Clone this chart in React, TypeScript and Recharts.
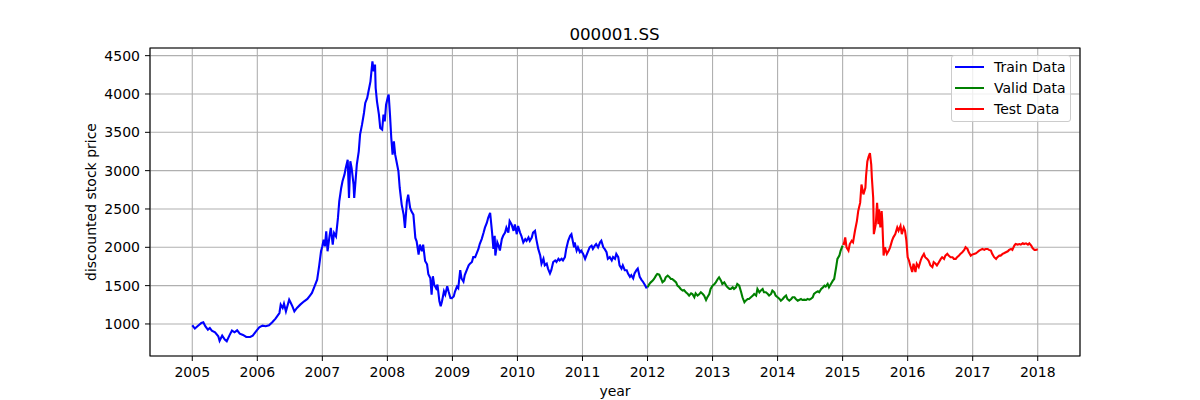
import React from 'react';
import { LineChart, Line, XAxis, YAxis, CartesianGrid, ReferenceArea, Legend } from 'recharts';

// [year, price]
const trainPoints: [number, number][] = [
  [2005.00, 983], [2005.04, 940], [2005.08, 970], [2005.14, 1013], [2005.17, 1022], [2005.20, 970],
  [2005.24, 926], [2005.27, 948], [2005.30, 913], [2005.35, 891], [2005.40, 839], [2005.42, 780],
  [2005.46, 848], [2005.50, 796], [2005.53, 775], [2005.57, 848], [2005.61, 913], [2005.65, 891],
  [2005.69, 917], [2005.73, 874], [2005.78, 857], [2005.83, 830], [2005.89, 830], [2005.93, 848],
  [2005.98, 904], [2006.03, 957], [2006.08, 978], [2006.13, 970], [2006.18, 983], [2006.23, 1022],
  [2006.28, 1070], [2006.34, 1143], [2006.36, 1252], [2006.39, 1209], [2006.41, 1265], [2006.44, 1165],
  [2006.49, 1317], [2006.51, 1283], [2006.54, 1230], [2006.57, 1165], [2006.61, 1209], [2006.66, 1252],
  [2006.72, 1296], [2006.77, 1326], [2006.81, 1370], [2006.84, 1404], [2006.88, 1491], [2006.92, 1578],
  [2006.95, 1752], [2006.98, 1948], [2007.00, 2013], [2007.02, 2100], [2007.04, 2013], [2007.06, 2209],
  [2007.08, 1948], [2007.11, 2143], [2007.13, 2252], [2007.16, 2035], [2007.18, 2187], [2007.21, 2143],
  [2007.24, 2383], [2007.26, 2600], [2007.29, 2774], [2007.31, 2861], [2007.34, 2948], [2007.36, 3035],
  [2007.39, 3143], [2007.41, 2643], [2007.43, 3122], [2007.45, 3035], [2007.48, 2817], [2007.49, 2643],
  [2007.51, 2861], [2007.53, 3078], [2007.56, 3252], [2007.58, 3470], [2007.61, 3600], [2007.64, 3752],
  [2007.66, 3883], [2007.69, 3948], [2007.71, 4035], [2007.74, 4165], [2007.76, 4339], [2007.77, 4426],
  [2007.79, 4296], [2007.81, 4383], [2007.82, 4078], [2007.84, 3904], [2007.87, 3730], [2007.89, 3557],
  [2007.92, 3535], [2007.94, 3730], [2007.96, 3643], [2007.98, 3861], [2008.01, 3970], [2008.02, 3991],
  [2008.04, 3730], [2008.06, 3426], [2008.08, 3209], [2008.10, 3383], [2008.12, 3209], [2008.14, 3122],
  [2008.17, 2991], [2008.19, 2774], [2008.22, 2557], [2008.25, 2426], [2008.27, 2252], [2008.30, 2600],
  [2008.32, 2687], [2008.35, 2513], [2008.37, 2470], [2008.40, 2426], [2008.43, 2122], [2008.45, 2078],
  [2008.48, 1904], [2008.50, 2035], [2008.53, 1948], [2008.55, 2035], [2008.58, 1822], [2008.61, 1778],
  [2008.63, 1648], [2008.66, 1600], [2008.68, 1383], [2008.70, 1622], [2008.72, 1513], [2008.75, 1465],
  [2008.77, 1513], [2008.80, 1296], [2008.82, 1230], [2008.84, 1296], [2008.87, 1426], [2008.89, 1383],
  [2008.92, 1491], [2008.94, 1426], [2008.97, 1339], [2008.99, 1337], [2009.02, 1359], [2009.04, 1423],
  [2009.07, 1487], [2009.09, 1466], [2009.12, 1701], [2009.14, 1594], [2009.17, 1551], [2009.19, 1637],
  [2009.22, 1701], [2009.25, 1765], [2009.27, 1786], [2009.30, 1808], [2009.32, 1872], [2009.35, 1872],
  [2009.37, 1914], [2009.40, 1979], [2009.42, 2043], [2009.45, 2107], [2009.48, 2192], [2009.50, 2256],
  [2009.53, 2321], [2009.55, 2385], [2009.58, 2449], [2009.59, 2363], [2009.61, 2192], [2009.63, 1979],
  [2009.65, 2150], [2009.66, 1893], [2009.69, 2064], [2009.71, 2021], [2009.73, 1957], [2009.76, 2107],
  [2009.78, 2150], [2009.81, 2192], [2009.83, 2256], [2009.86, 2192], [2009.88, 2342], [2009.91, 2299],
  [2009.94, 2214], [2009.96, 2299], [2009.99, 2171], [2010.01, 2278], [2010.04, 2192], [2010.06, 2150],
  [2010.09, 2064], [2010.12, 2107], [2010.14, 2085], [2010.17, 2128], [2010.19, 2085], [2010.22, 2128],
  [2010.24, 2192], [2010.27, 2214], [2010.29, 2107], [2010.32, 1979], [2010.35, 1893], [2010.37, 1786],
  [2010.40, 1850], [2010.42, 1765], [2010.45, 1786], [2010.47, 1722], [2010.50, 1658], [2010.52, 1701],
  [2010.55, 1808], [2010.58, 1829], [2010.60, 1808], [2010.63, 1850], [2010.65, 1829], [2010.68, 1850],
  [2010.70, 1829], [2010.73, 1872], [2010.75, 1979], [2010.78, 2085], [2010.81, 2150], [2010.83, 2171],
  [2010.85, 2085], [2010.87, 2000], [2010.88, 2064], [2010.91, 1957], [2010.93, 2000], [2010.96, 1936],
  [2010.98, 1957], [2011.01, 1914], [2011.04, 1850], [2011.06, 1893], [2011.09, 1957], [2011.11, 2000],
  [2011.14, 2021], [2011.16, 1979], [2011.19, 2021], [2011.21, 2043], [2011.24, 2000], [2011.27, 2064],
  [2011.29, 2085], [2011.32, 2000], [2011.34, 1979], [2011.37, 1936], [2011.39, 1850], [2011.42, 1872],
  [2011.45, 1829], [2011.47, 1872], [2011.50, 1850], [2011.52, 1914], [2011.55, 1872], [2011.57, 1765],
  [2011.60, 1722], [2011.62, 1765], [2011.65, 1701], [2011.68, 1701], [2011.70, 1658], [2011.73, 1615],
  [2011.75, 1637], [2011.78, 1594], [2011.80, 1658], [2011.83, 1701], [2011.85, 1722], [2011.88, 1615],
  [2011.91, 1573], [2011.93, 1551], [2011.96, 1508], [2011.98, 1474], [2012.00, 1478],
];

const validPoints: [number, number][] = [
  [2012.00, 1478], [2012.03, 1522], [2012.05, 1543], [2012.08, 1565], [2012.10, 1587], [2012.13, 1630],
  [2012.15, 1652], [2012.18, 1643], [2012.21, 1587], [2012.23, 1543], [2012.26, 1565], [2012.28, 1609],
  [2012.31, 1630], [2012.33, 1617], [2012.36, 1587], [2012.38, 1587], [2012.41, 1565], [2012.44, 1543],
  [2012.46, 1500], [2012.49, 1478], [2012.51, 1457], [2012.54, 1435], [2012.56, 1443], [2012.59, 1413],
  [2012.62, 1391], [2012.64, 1370], [2012.67, 1400], [2012.69, 1391], [2012.72, 1348], [2012.74, 1400],
  [2012.77, 1370], [2012.79, 1383], [2012.82, 1413], [2012.85, 1391], [2012.87, 1370], [2012.90, 1313],
  [2012.92, 1348], [2012.95, 1391], [2012.97, 1457], [2013.00, 1500], [2013.03, 1522], [2013.05, 1543],
  [2013.08, 1587], [2013.10, 1609], [2013.13, 1565], [2013.15, 1522], [2013.18, 1543], [2013.21, 1500],
  [2013.23, 1478], [2013.26, 1457], [2013.28, 1457], [2013.31, 1478], [2013.33, 1457], [2013.36, 1478],
  [2013.38, 1522], [2013.41, 1500], [2013.44, 1413], [2013.46, 1348], [2013.49, 1283], [2013.51, 1304],
  [2013.54, 1326], [2013.56, 1326], [2013.59, 1348], [2013.62, 1370], [2013.64, 1391], [2013.67, 1370],
  [2013.69, 1457], [2013.72, 1413], [2013.74, 1435], [2013.77, 1457], [2013.79, 1413], [2013.82, 1413],
  [2013.85, 1391], [2013.87, 1370], [2013.90, 1391], [2013.92, 1435], [2013.95, 1413], [2013.97, 1370],
  [2014.00, 1348], [2014.03, 1326], [2014.05, 1304], [2014.08, 1326], [2014.10, 1348], [2014.13, 1370],
  [2014.15, 1326], [2014.18, 1304], [2014.21, 1326], [2014.23, 1348], [2014.26, 1348], [2014.28, 1326],
  [2014.31, 1304], [2014.33, 1313], [2014.36, 1326], [2014.38, 1313], [2014.41, 1317], [2014.44, 1313],
  [2014.46, 1326], [2014.49, 1317], [2014.51, 1326], [2014.54, 1348], [2014.56, 1391], [2014.59, 1413],
  [2014.62, 1426], [2014.64, 1413], [2014.67, 1457], [2014.69, 1470], [2014.72, 1500], [2014.74, 1487],
  [2014.77, 1522], [2014.79, 1478], [2014.82, 1522], [2014.85, 1565], [2014.87, 1587], [2014.90, 1739],
  [2014.92, 1848], [2014.95, 1891], [2014.97, 1957], [2015.00, 2022],
];

const testPoints: [number, number][] = [
  [2015.00, 2050], [2015.02, 2043], [2015.04, 2130], [2015.06, 2000], [2015.09, 1957], [2015.11, 2043],
  [2015.14, 2086], [2015.16, 2065], [2015.19, 2216], [2015.22, 2345], [2015.24, 2474], [2015.27, 2582],
  [2015.29, 2819], [2015.32, 2690], [2015.35, 2776], [2015.36, 2927], [2015.38, 3121], [2015.40, 3185],
  [2015.42, 3228], [2015.44, 3078], [2015.45, 2905], [2015.47, 2647], [2015.48, 2172], [2015.51, 2302],
  [2015.53, 2582], [2015.55, 2302], [2015.56, 2496], [2015.58, 2259], [2015.60, 2474], [2015.61, 2345],
  [2015.63, 1892], [2015.65, 2000], [2015.68, 1914], [2015.71, 1957], [2015.73, 2000], [2015.76, 2086],
  [2015.78, 2130], [2015.81, 2172], [2015.84, 2259], [2015.86, 2216], [2015.89, 2280], [2015.91, 2172],
  [2015.94, 2259], [2015.96, 2216], [2015.98, 2086], [2016.00, 1871], [2016.02, 1828], [2016.04, 1763],
  [2016.07, 1677], [2016.09, 1785], [2016.12, 1677], [2016.14, 1785], [2016.17, 1741], [2016.20, 1828],
  [2016.22, 1871], [2016.25, 1914], [2016.27, 1871], [2016.30, 1849], [2016.32, 1828], [2016.35, 1763],
  [2016.38, 1741], [2016.40, 1806], [2016.43, 1785], [2016.45, 1763], [2016.48, 1806], [2016.51, 1849],
  [2016.53, 1871], [2016.56, 1849], [2016.58, 1892], [2016.61, 1914], [2016.63, 1892], [2016.66, 1871],
  [2016.69, 1871], [2016.71, 1849], [2016.74, 1849], [2016.76, 1871], [2016.79, 1892], [2016.81, 1914],
  [2016.84, 1935], [2016.87, 1966], [2016.89, 2000], [2016.92, 1978], [2016.94, 1935], [2016.97, 1892],
  [2016.99, 1905], [2017.02, 1914], [2017.05, 1922], [2017.07, 1935], [2017.10, 1957], [2017.12, 1966],
  [2017.15, 1978], [2017.18, 1966], [2017.20, 1978], [2017.23, 1978], [2017.25, 1966], [2017.28, 1957],
  [2017.30, 1914], [2017.33, 1871], [2017.36, 1849], [2017.38, 1871], [2017.41, 1892], [2017.43, 1892],
  [2017.46, 1914], [2017.48, 1922], [2017.51, 1935], [2017.54, 1948], [2017.56, 1966], [2017.59, 1978],
  [2017.61, 1966], [2017.64, 2022], [2017.66, 2043], [2017.69, 2035], [2017.72, 2043], [2017.74, 2035],
  [2017.77, 2052], [2017.79, 2043], [2017.82, 2052], [2017.85, 2035], [2017.87, 2052], [2017.90, 2022],
  [2017.92, 1991], [2017.95, 1966], [2017.97, 1966], [2018.00, 1974],
];

const xTicks = [2005, 2006, 2007, 2008, 2009, 2010, 2011, 2012, 2013, 2014, 2015, 2016, 2017, 2018];
const yTicks = [1000, 1500, 2000, 2500, 3000, 3500, 4000, 4500];
const seriesNames = ['Train Data', 'Valid Data', 'Test Data'];
const seriesColors = ['#0000ff', '#008000', '#ff0000'];

const X_DOMAIN: [number, number] = [2004.35, 2018.65];
const Y_DOMAIN: [number, number] = [582, 4600];

const toRows = (pts: [number, number][]) => pts.map(([year, price]) => ({ year, price }));

const font = '"DejaVu Sans", sans-serif';

const renderLegend = () => (
  <div
    style={{
      width: 120,
      height: 67,
      border: '1px solid #cccccc',
      borderRadius: 3,
      background: 'rgba(255,255,255,0.8)',
      fontFamily: font,
      fontSize: 14,
      color: '#000',
      position: 'relative',
      boxSizing: 'border-box',
    }}
  >
    {seriesNames.map((name, i) => (
      <div key={name} style={{ position: 'absolute', left: 0, top: 0.5 + i * 21.2, height: 20, display: 'flex', alignItems: 'center' }}>
        <span style={{ display: 'inline-block', width: 29, height: 2, background: seriesColors[i], marginLeft: 3 }} />
        <span style={{ marginLeft: 10, lineHeight: '20px', whiteSpace: 'nowrap' }}>{name}</span>
      </div>
    ))}
  </div>
);

export default function App() {
  const tickStyle = { fill: '#000', fontSize: 14, fontFamily: font };
  return (
    <div style={{ width: 1200, height: 400, background: '#fff', fontFamily: font }}>
      <style>{'body{margin:0}'}</style>
      <LineChart width={1200} height={400} margin={{ top: 48, right: 120, bottom: 0, left: 0 }}>
        <CartesianGrid stroke="#b0b0b0" strokeWidth={1.1} />
        <XAxis
          type="number"
          dataKey="year"
          domain={X_DOMAIN}
          ticks={xTicks}
          allowDataOverflow
          height={44}
          axisLine={false}
          tickLine={{ stroke: '#000', strokeWidth: 1 }}
          tickSize={5}
          tickMargin={6}
          tick={tickStyle}
          label={{ value: 'year', position: 'insideBottom', offset: 4, fill: '#000', fontSize: 14, fontFamily: font }}
        />
        <YAxis
          type="number"
          domain={Y_DOMAIN}
          ticks={yTicks}
          allowDataOverflow
          width={150}
          axisLine={false}
          tickLine={{ stroke: '#000', strokeWidth: 1 }}
          tickSize={5}
          tickMargin={5}
          tick={tickStyle}
        />
        <Line data={toRows(trainPoints)} dataKey="price" name={seriesNames[0]} stroke={seriesColors[0]} strokeWidth={2.1} dot={false} isAnimationActive={false} />
        <Line data={toRows(validPoints)} dataKey="price" name={seriesNames[1]} stroke={seriesColors[1]} strokeWidth={2.1} dot={false} isAnimationActive={false} />
        <Line data={toRows(testPoints)} dataKey="price" name={seriesNames[2]} stroke={seriesColors[2]} strokeWidth={2.1} dot={false} isAnimationActive={false} />
        <ReferenceArea x1={X_DOMAIN[0]} x2={X_DOMAIN[1]} y1={Y_DOMAIN[0]} y2={Y_DOMAIN[1]} fill="none" stroke="#000" strokeWidth={1.1} ifOverflow="visible" />
        <Legend
          layout="vertical"
          align="center"
          verticalAlign="middle"
          content={renderLegend}
          wrapperStyle={{ left: 951, top: 55, width: 120 }}
        />
        <text x={614.5} y={40} textAnchor="middle" fontSize={16.7} fontFamily={font} fill="#000">000001.SS</text>
        <text x={96} y={202} transform="rotate(-90, 96, 202)" textAnchor="middle" fontSize={14} fontFamily={font} fill="#000">
          discounted stock price
        </text>
      </LineChart>
    </div>
  );
}
